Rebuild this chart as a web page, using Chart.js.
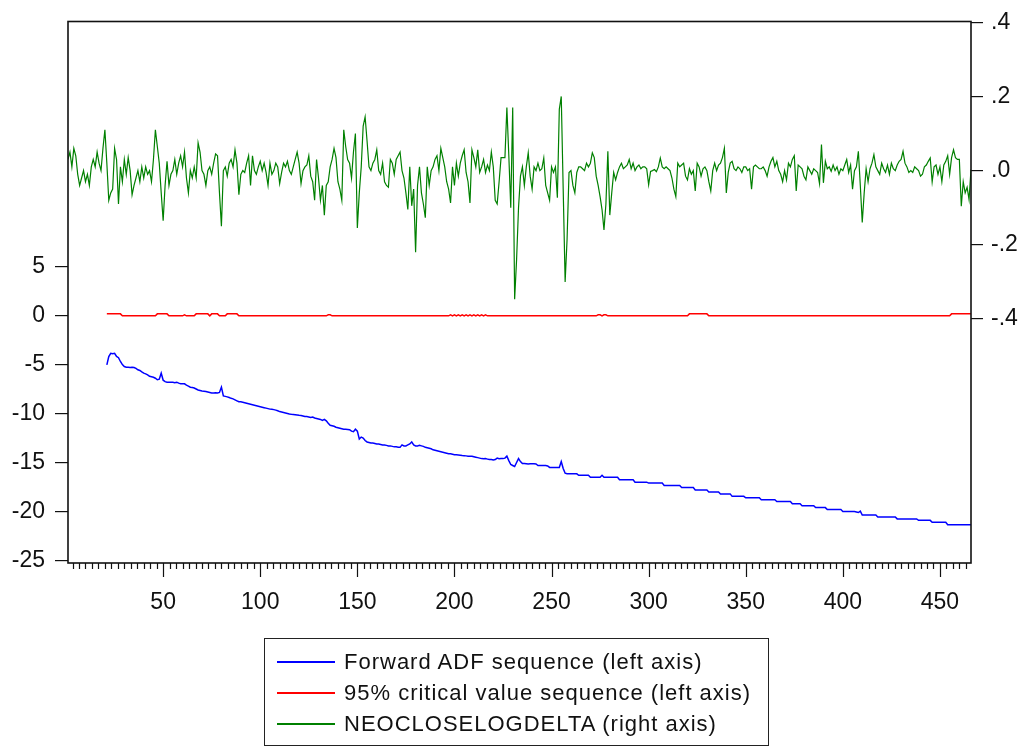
<!DOCTYPE html>
<html>
<head>
<meta charset="utf-8">
<script src="https://cdn.jsdelivr.net/npm/chart.js@4.4.1/dist/chart.umd.min.js"></script>
<style>
  html, body { margin: 0; padding: 0; background: #fff; }
  #wrap { position: relative; width: 1027px; height: 747px; }
  #legend {
    position: absolute; left: 264px; top: 638px; width: 505px; height: 108px;
    box-sizing: border-box; border: 1.5px solid #222; padding-top: 7px;
    font-family: "Liberation Sans", Arial, sans-serif; font-size: 22px;
    letter-spacing: 1px; color: #111;
  }
  .item { display: flex; align-items: center; height: 31px; white-space: nowrap; }
  .swatch { width: 58px; height: 0; border-top: 2px solid; margin-left: 12px; margin-right: 9px; }
</style>
</head>
<body>
<div id="wrap">
  <canvas id="myChart" width="1027" height="747"></canvas>
  <div id="legend"></div>
</div>
<script>
// observation numbers where the series start
const neoStart = 1;
const adfStart = 21;

// tick labels
const xTicks = [50, 100, 150, 200, 250, 300, 350, 400, 450];
const leftTicks = [-25, -20, -15, -10, -5, 0, 5];
const rightTicks = [-0.4, -0.2, 0, 0.2, 0.4];

const seriesNames = [
  'Forward ADF sequence (left axis)',
  '95% critical value sequence (left axis)',
  'NEOCLOSELOGDELTA (right axis)'
];
const seriesColors = ['#0000ff', '#ff0000', '#008000'];

// NEOCLOSELOGDELTA, obs 1..466 (right axis)
const neoDelta = [
  0.03,0.05,0.01,0.06,0.04,-0.01,-0.04,-0.02,0.00,-0.03,
  -0.01,-0.04,0.01,0.03,0.01,0.05,0.02,0.00,0.06,0.11,
  0.02,-0.08,-0.06,-0.05,0.06,0.03,-0.09,0.01,-0.03,0.03,
  -0.01,0.035,0.00,-0.065,-0.04,-0.02,0.00,-0.03,0.01,-0.02,
  0.01,-0.01,0.00,-0.03,0.03,0.11,0.065,0.02,-0.06,-0.135,
  -0.04,0.025,-0.04,-0.01,0.00,0.03,-0.01,0.02,0.04,0.01,
  0.05,-0.02,-0.06,0.00,-0.02,0.01,-0.02,0.075,0.05,0.00,
  -0.01,-0.04,0.00,0.01,-0.01,0.02,0.045,0.04,-0.06,-0.15,
  0.00,0.01,-0.015,0.02,0.03,0.01,0.056,0.02,-0.065,-0.01,
  0.00,-0.005,0.02,0.04,-0.04,0.04,0.00,-0.01,0.01,0.025,
  0.00,0.02,-0.005,-0.04,0.02,-0.01,0.00,0.02,0.01,-0.035,
  -0.005,0.02,0.01,0.025,0.00,-0.01,0.01,0.03,0.05,0.02,
  -0.035,0.00,0.01,0.015,0.04,-0.015,-0.03,-0.08,0.03,-0.02,
  -0.08,-0.04,-0.12,-0.04,-0.03,0.01,0.03,0.06,0.035,-0.03,
  -0.05,-0.08,0.11,0.065,0.03,0.02,-0.02,0.05,0.10,-0.155,
  -0.06,0.01,0.12,0.145,0.08,0.01,0.00,0.02,0.03,0.056,
  0.00,-0.01,0.02,-0.03,-0.04,-0.045,0.03,0.02,-0.01,0.03,
  0.04,0.05,0.00,-0.02,-0.06,-0.105,0.01,-0.095,-0.05,-0.22,
  -0.04,0.01,-0.06,-0.09,-0.127,0.01,-0.04,0.00,0.01,0.03,
  0.04,0.00,0.06,0.035,0.01,-0.03,-0.05,-0.087,0.01,-0.04,
  0.02,-0.015,0.02,0.04,0.056,-0.005,-0.03,-0.087,0.056,0.035,
  0.01,0.056,-0.005,0.01,0.03,-0.005,0.015,0.00,0.05,0.01,
  -0.08,-0.09,-0.03,0.035,0.035,0.035,0.17,0.04,-0.10,0.17,
  -0.347,-0.24,-0.10,-0.015,0.01,-0.04,0.01,0.048,-0.015,-0.05,
  0.01,0.00,0.02,0.00,0.005,0.034,-0.04,-0.06,-0.08,0.01,
  -0.005,0.01,-0.073,0.165,0.20,-0.05,-0.30,-0.185,-0.005,0.00,
  -0.04,-0.06,-0.005,0.01,0.01,0.005,0.00,0.02,0.01,0.02,
  0.048,0.035,-0.015,-0.04,-0.07,-0.105,-0.16,-0.09,0.052,-0.12,
  -0.06,-0.005,-0.025,-0.005,0.01,0.02,0.005,0.01,0.015,0.03,
  0.005,0.02,0.00,0.01,0.015,0.005,0.01,0.01,0.005,-0.038,
  -0.002,0.00,0.003,-0.003,0.01,0.034,0.01,0.005,0.01,0.005,
  0.00,-0.02,-0.05,-0.07,0.02,0.01,0.015,0.02,-0.015,-0.025,
  0.005,-0.01,0.00,-0.055,0.02,0.01,-0.015,0.005,0.01,0.00,
  -0.03,-0.055,0.00,0.02,0.00,0.015,0.02,0.035,0.06,-0.06,
  -0.005,0.02,0.025,0.005,0.00,0.01,0.005,-0.005,0.01,0.01,
  0.00,0.005,-0.05,0.01,0.015,0.01,0.005,0.005,0.01,0.00,
  -0.015,0.01,0.025,0.035,0.01,0.025,0.00,-0.01,-0.03,0.00,
  -0.025,0.02,0.01,0.03,0.04,-0.055,0.015,0.01,0.005,-0.015,
  -0.025,0.01,0.00,-0.01,0.005,0.00,-0.005,-0.035,0.07,-0.033,
  0.025,0.005,0.01,-0.002,0.015,0.00,0.01,-0.01,0.005,0.00,
  0.015,0.03,-0.005,0.015,-0.05,0.00,0.01,0.052,-0.04,-0.14,
  -0.06,0.005,-0.03,0.005,0.02,0.043,0.01,0.00,-0.01,0.02,
  0.005,-0.005,0.015,-0.01,0.02,0.005,0.00,0.015,0.025,0.03,
  0.052,0.02,0.01,-0.005,0.00,-0.005,0.01,0.005,0.00,-0.015,
  -0.01,0.01,0.015,0.025,0.034,-0.03,0.01,0.015,-0.01,0.01,
  -0.03,0.015,0.025,0.04,-0.01,0.035,0.056,0.035,0.03,0.03,
  -0.096,-0.03,-0.06,-0.045,-0.078,0.003
];

// Forward ADF sequence, obs 21..466 (left axis)
const adfSeq = [
  -5.03,-4.18,-3.85,-3.9,-3.85,-4.18,-4.3,-4.69,-5.0,-5.2,
  -5.27,-5.27,-5.3,-5.27,-5.3,-5.4,-5.54,-5.6,-5.75,-5.88,
  -5.95,-6.05,-6.2,-6.25,-6.3,-6.4,-6.55,-6.5,-5.88,-6.6,
  -6.75,-6.8,-6.8,-6.82,-6.8,-6.85,-6.8,-6.9,-6.95,-6.95,
  -6.97,-7.1,-7.2,-7.31,-7.35,-7.4,-7.5,-7.6,-7.65,-7.7,
  -7.72,-7.75,-7.8,-7.85,-7.9,-7.9,-7.88,-7.9,-7.85,-7.3,
  -8.2,-8.25,-8.3,-8.37,-8.45,-8.5,-8.6,-8.7,-8.8,-8.8,
  -8.85,-8.9,-8.95,-9.0,-9.05,-9.1,-9.15,-9.2,-9.25,-9.3,
  -9.35,-9.4,-9.45,-9.5,-9.55,-9.56,-9.6,-9.65,-9.72,-9.8,
  -9.85,-9.9,-9.95,-10.0,-10.05,-10.08,-10.1,-10.12,-10.15,-10.18,
  -10.2,-10.25,-10.3,-10.3,-10.35,-10.4,-10.35,-10.45,-10.5,-10.55,
  -10.6,-10.7,-10.6,-10.75,-11.0,-11.2,-11.25,-11.3,-11.4,-11.45,
  -11.5,-11.55,-11.6,-11.6,-11.62,-11.65,-11.8,-11.85,-11.6,-11.8,
  -12.6,-12.4,-12.5,-12.75,-12.9,-12.95,-13.0,-13.0,-13.05,-13.1,
  -13.1,-13.15,-13.2,-13.2,-13.25,-13.3,-13.3,-13.35,-13.4,-13.4,
  -13.45,-13.45,-13.2,-13.3,-13.3,-13.2,-13.1,-12.9,-13.2,-13.3,
  -13.3,-13.25,-13.3,-13.35,-13.45,-13.5,-13.55,-13.6,-13.7,-13.75,
  -13.8,-13.85,-13.9,-13.95,-14.0,-14.05,-14.1,-14.1,-14.15,-14.2,
  -14.2,-14.22,-14.25,-14.28,-14.3,-14.32,-14.35,-14.35,-14.35,-14.4,
  -14.45,-14.5,-14.55,-14.6,-14.62,-14.6,-14.65,-14.7,-14.7,-14.75,
  -14.7,-14.55,-14.62,-14.6,-14.6,-14.55,-14.35,-14.8,-15.2,-15.3,
  -15.4,-15.0,-14.6,-14.9,-15.1,-15.1,-15.12,-15.15,-15.13,-15.13,
  -15.13,-15.15,-15.3,-15.3,-15.3,-15.3,-15.3,-15.35,-15.5,-15.5,
  -15.5,-15.5,-15.5,-15.5,-14.9,-15.6,-16.09,-16.15,-16.15,-16.15,
  -16.15,-16.15,-16.15,-16.3,-16.3,-16.3,-16.3,-16.3,-16.3,-16.5,
  -16.5,-16.5,-16.5,-16.5,-16.5,-16.3,-16.5,-16.5,-16.5,-16.5,
  -16.5,-16.5,-16.5,-16.5,-16.75,-16.75,-16.75,-16.75,-16.75,-16.75,
  -16.75,-16.75,-17.0,-17.0,-17.0,-17.0,-17.0,-17.0,-17.0,-17.1,
  -17.1,-17.1,-17.1,-17.1,-17.1,-17.1,-17.1,-17.35,-17.35,-17.35,
  -17.35,-17.35,-17.35,-17.35,-17.35,-17.35,-17.55,-17.55,-17.55,-17.55,
  -17.55,-17.55,-17.55,-17.8,-17.8,-17.8,-17.8,-17.8,-17.8,-17.8,
  -18.0,-18.0,-18.0,-18.0,-18.0,-18.0,-18.2,-18.2,-18.2,-18.2,
  -18.2,-18.2,-18.45,-18.45,-18.45,-18.45,-18.45,-18.45,-18.45,-18.6,
  -18.6,-18.6,-18.6,-18.6,-18.6,-18.6,-18.6,-18.8,-18.8,-18.8,
  -18.8,-18.8,-18.8,-18.8,-18.8,-18.97,-18.97,-18.97,-18.97,-18.97,
  -18.97,-18.97,-18.97,-19.2,-19.2,-19.2,-19.2,-19.2,-19.4,-19.4,
  -19.4,-19.4,-19.4,-19.4,-19.4,-19.6,-19.6,-19.6,-19.6,-19.6,
  -19.6,-19.8,-19.8,-19.8,-19.8,-19.8,-19.8,-19.8,-19.8,-20.0,
  -20.0,-20.0,-20.0,-20.0,-20.0,-20.0,-20.05,-20.1,-19.95,-20.35,
  -20.35,-20.35,-20.35,-20.35,-20.35,-20.35,-20.35,-20.55,-20.55,-20.55,
  -20.55,-20.55,-20.55,-20.55,-20.55,-20.55,-20.55,-20.75,-20.75,-20.75,
  -20.75,-20.75,-20.75,-20.75,-20.75,-20.75,-20.75,-20.75,-20.9,-20.9,
  -20.9,-20.9,-20.9,-20.9,-20.9,-21.1,-21.1,-21.1,-21.1,-21.1,
  -21.1,-21.1,-21.1,-21.35,-21.35,-21.35,-21.35,-21.35,-21.35,-21.35,
  -21.35,-21.35,-21.35,-21.35,-21.35,-21.35
];

// 95% critical value sequence, obs 21..466 (left axis)
const critSeq = [
  0.17,0.17,0.17,0.17,0.17,0.17,0.17,0.17,-0.03,-0.03,
  -0.03,-0.03,-0.03,-0.03,-0.03,-0.03,-0.03,-0.03,-0.03,-0.03,
  -0.03,-0.03,-0.03,-0.03,-0.03,-0.03,0.17,0.17,0.17,0.17,
  0.17,0.17,-0.03,-0.03,-0.03,-0.03,-0.03,-0.03,-0.03,-0.03,
  0.07,-0.03,-0.03,-0.03,-0.03,-0.03,0.17,0.17,0.17,0.17,
  0.17,0.17,0.17,-0.03,0.17,0.17,0.17,0.17,-0.03,-0.03,
  -0.03,-0.03,0.17,0.17,0.17,0.17,0.17,0.17,-0.03,-0.03,
  -0.03,-0.03,-0.03,-0.03,-0.03,-0.03,-0.03,-0.03,-0.03,-0.03,
  -0.03,-0.03,-0.03,-0.03,-0.03,-0.03,-0.03,-0.03,-0.03,-0.03,
  -0.03,-0.03,-0.03,-0.03,-0.03,-0.03,-0.03,-0.03,-0.03,-0.03,
  -0.03,-0.03,-0.03,-0.03,-0.03,-0.03,-0.03,-0.03,-0.03,-0.03,
  -0.03,-0.03,-0.03,-0.03,0.07,0.07,-0.03,-0.03,-0.03,-0.03,
  -0.03,-0.03,-0.03,-0.03,-0.03,-0.03,-0.03,-0.03,-0.03,-0.03,
  -0.03,-0.03,-0.03,-0.03,-0.03,-0.03,-0.03,-0.03,-0.03,-0.03,
  -0.03,-0.03,-0.03,-0.03,-0.03,-0.03,-0.03,-0.03,-0.03,-0.03,
  -0.03,-0.03,-0.03,-0.03,-0.03,-0.03,-0.03,-0.03,-0.03,-0.03,
  -0.03,-0.03,-0.03,-0.03,-0.03,-0.03,-0.03,-0.03,-0.03,-0.03,
  -0.03,-0.03,-0.03,-0.03,-0.03,-0.03,-0.03,0.07,-0.03,0.07,
  -0.03,0.07,-0.03,0.07,-0.03,0.07,-0.03,0.07,-0.03,0.07,
  -0.03,0.07,-0.03,0.07,-0.03,0.07,-0.03,-0.03,-0.03,-0.03,
  -0.03,-0.03,-0.03,-0.03,-0.03,-0.03,-0.03,-0.03,-0.03,-0.03,
  -0.03,-0.03,-0.03,-0.03,-0.03,-0.03,-0.03,-0.03,-0.03,-0.03,
  -0.03,-0.03,-0.03,-0.03,-0.03,-0.03,-0.03,-0.03,-0.03,-0.03,
  -0.03,-0.03,-0.03,-0.03,-0.03,-0.03,-0.03,-0.03,-0.03,-0.03,
  -0.03,-0.03,-0.03,-0.03,-0.03,-0.03,-0.03,-0.03,-0.03,-0.03,
  -0.03,-0.03,-0.03,0.07,0.07,-0.03,0.07,0.07,-0.03,-0.03,
  -0.03,-0.03,-0.03,-0.03,-0.03,-0.03,-0.03,-0.03,-0.03,-0.03,
  -0.03,-0.03,-0.03,-0.03,-0.03,-0.03,-0.03,-0.03,-0.03,-0.03,
  -0.03,-0.03,-0.03,-0.03,-0.03,-0.03,-0.03,-0.03,-0.03,-0.03,
  -0.03,-0.03,-0.03,-0.03,-0.03,-0.03,-0.03,-0.03,-0.03,-0.03,
  0.17,0.17,0.17,0.17,0.17,0.17,0.17,0.17,0.17,0.17,
  -0.03,-0.03,-0.03,-0.03,-0.03,-0.03,-0.03,-0.03,-0.03,-0.03,
  -0.03,-0.03,-0.03,-0.03,-0.03,-0.03,-0.03,-0.03,-0.03,-0.03,
  -0.03,-0.03,-0.03,-0.03,-0.03,-0.03,-0.03,-0.03,-0.03,-0.03,
  -0.03,-0.03,-0.03,-0.03,-0.03,-0.03,-0.03,-0.03,-0.03,-0.03,
  -0.03,-0.03,-0.03,-0.03,-0.03,-0.03,-0.03,-0.03,-0.03,-0.03,
  -0.03,-0.03,-0.03,-0.03,-0.03,-0.03,-0.03,-0.03,-0.03,-0.03,
  -0.03,-0.03,-0.03,-0.03,-0.03,-0.03,-0.03,-0.03,-0.03,-0.03,
  -0.03,-0.03,-0.03,-0.03,-0.03,-0.03,-0.03,-0.03,-0.03,-0.03,
  -0.03,-0.03,-0.03,-0.03,-0.03,-0.03,-0.03,-0.03,-0.03,-0.03,
  -0.03,-0.03,-0.03,-0.03,-0.03,-0.03,-0.03,-0.03,-0.03,-0.03,
  -0.03,-0.03,-0.03,-0.03,-0.03,-0.03,-0.03,-0.03,-0.03,-0.03,
  -0.03,-0.03,-0.03,-0.03,-0.03,-0.03,-0.03,-0.03,-0.03,-0.03,
  -0.03,-0.03,-0.03,-0.03,-0.03,0.17,0.17,0.17,0.17,0.17,
  0.17,0.17,0.17,0.17,0.17,0.17
];

const tickFont = { family: 'Liberation Sans', size: 23, lineHeight: 1 };

// plot frame plus the EViews style minor/major ticks on the bottom axis
const framePlugin = {
  id: 'frame',
  afterDraw(chart) {
    const { ctx, chartArea: a, scales: { x } } = chart;
    ctx.save();
    ctx.strokeStyle = '#111';
    ctx.lineWidth = 1.6;
    ctx.strokeRect(a.left, a.top, a.right - a.left, a.bottom - a.top);
    ctx.lineWidth = 1.2;
    ctx.beginPath();
    for (let k = 1; k * 10 / 3 <= x.max; k++) {
      const px = Math.round(x.getPixelForValue(k * 10 / 3)) + 0.5;
      ctx.moveTo(px, a.bottom);
      ctx.lineTo(px, a.bottom + (k % 15 === 0 ? 14 : 6));
    }
    ctx.stroke();
    ctx.restore();
  }
};

const toPts = (arr, start) => arr.map((v, k) => ({ x: start + k, y: v }));

const chart = new Chart(document.getElementById('myChart'), {
  type: 'line',
  data: {
    datasets: [
      { label: seriesNames[2], data: toPts(neoDelta, neoStart), yAxisID: 'y2',
        borderColor: seriesColors[2], borderWidth: 1.2 },
      { label: seriesNames[1], data: toPts(critSeq, adfStart), yAxisID: 'y',
        borderColor: seriesColors[1], borderWidth: 1.5 },
      { label: seriesNames[0], data: toPts(adfSeq, adfStart), yAxisID: 'y',
        borderColor: seriesColors[0], borderWidth: 1.5 }
    ]
  },
  options: {
    responsive: false,
    animation: false,
    devicePixelRatio: 1,
    elements: { point: { radius: 0 }, line: { tension: 0 } },
    layout: { padding: { top: 20, left: 0, right: 0, bottom: 0 } },
    plugins: { legend: { display: false }, tooltip: { enabled: false } },
    scales: {
      x: {
        type: 'linear', min: 1, max: 466,
        afterBuildTicks: s => { s.ticks = xTicks.map(v => ({ value: v })); },
        afterFit: s => { s.height = 747 - 563; },
        grid: { display: false },
        border: { display: false },
        ticks: { padding: 20, color: '#111', font: tickFont, maxRotation: 0 }
      },
      y: {
        position: 'left', min: -25.25, max: 30,
        afterBuildTicks: s => { s.ticks = leftTicks.map(v => ({ value: v })); },
        afterFit: s => { s.width = 68; },
        grid: { drawOnChartArea: false, tickLength: 13, color: '#111', lineWidth: 1.2 },
        border: { display: false },
        ticks: { padding: 10, color: '#111', font: tickFont }
      },
      y2: {
        position: 'right', min: -1.058, max: 0.402,
        afterBuildTicks: s => { s.ticks = rightTicks.map(v => ({ value: v })); },
        afterFit: s => { s.width = 1027 - 971; },
        grid: { drawOnChartArea: false, tickLength: 12, color: '#111', lineWidth: 1.2 },
        border: { display: false },
        ticks: { padding: 8, color: '#111', font: tickFont,
          callback: v => v.toFixed(1).replace('0.', '.') }
      }
    }
  },
  plugins: [framePlugin]
});

// legend box under the plot
const legend = document.getElementById('legend');
seriesNames.forEach((name, i) => {
  const row = document.createElement('div');
  row.className = 'item';
  const sw = document.createElement('span');
  sw.className = 'swatch';
  sw.style.borderColor = seriesColors[i];
  const txt = document.createElement('span');
  txt.textContent = name;
  row.appendChild(sw);
  row.appendChild(txt);
  legend.appendChild(row);
});
</script>
</body>
</html>
